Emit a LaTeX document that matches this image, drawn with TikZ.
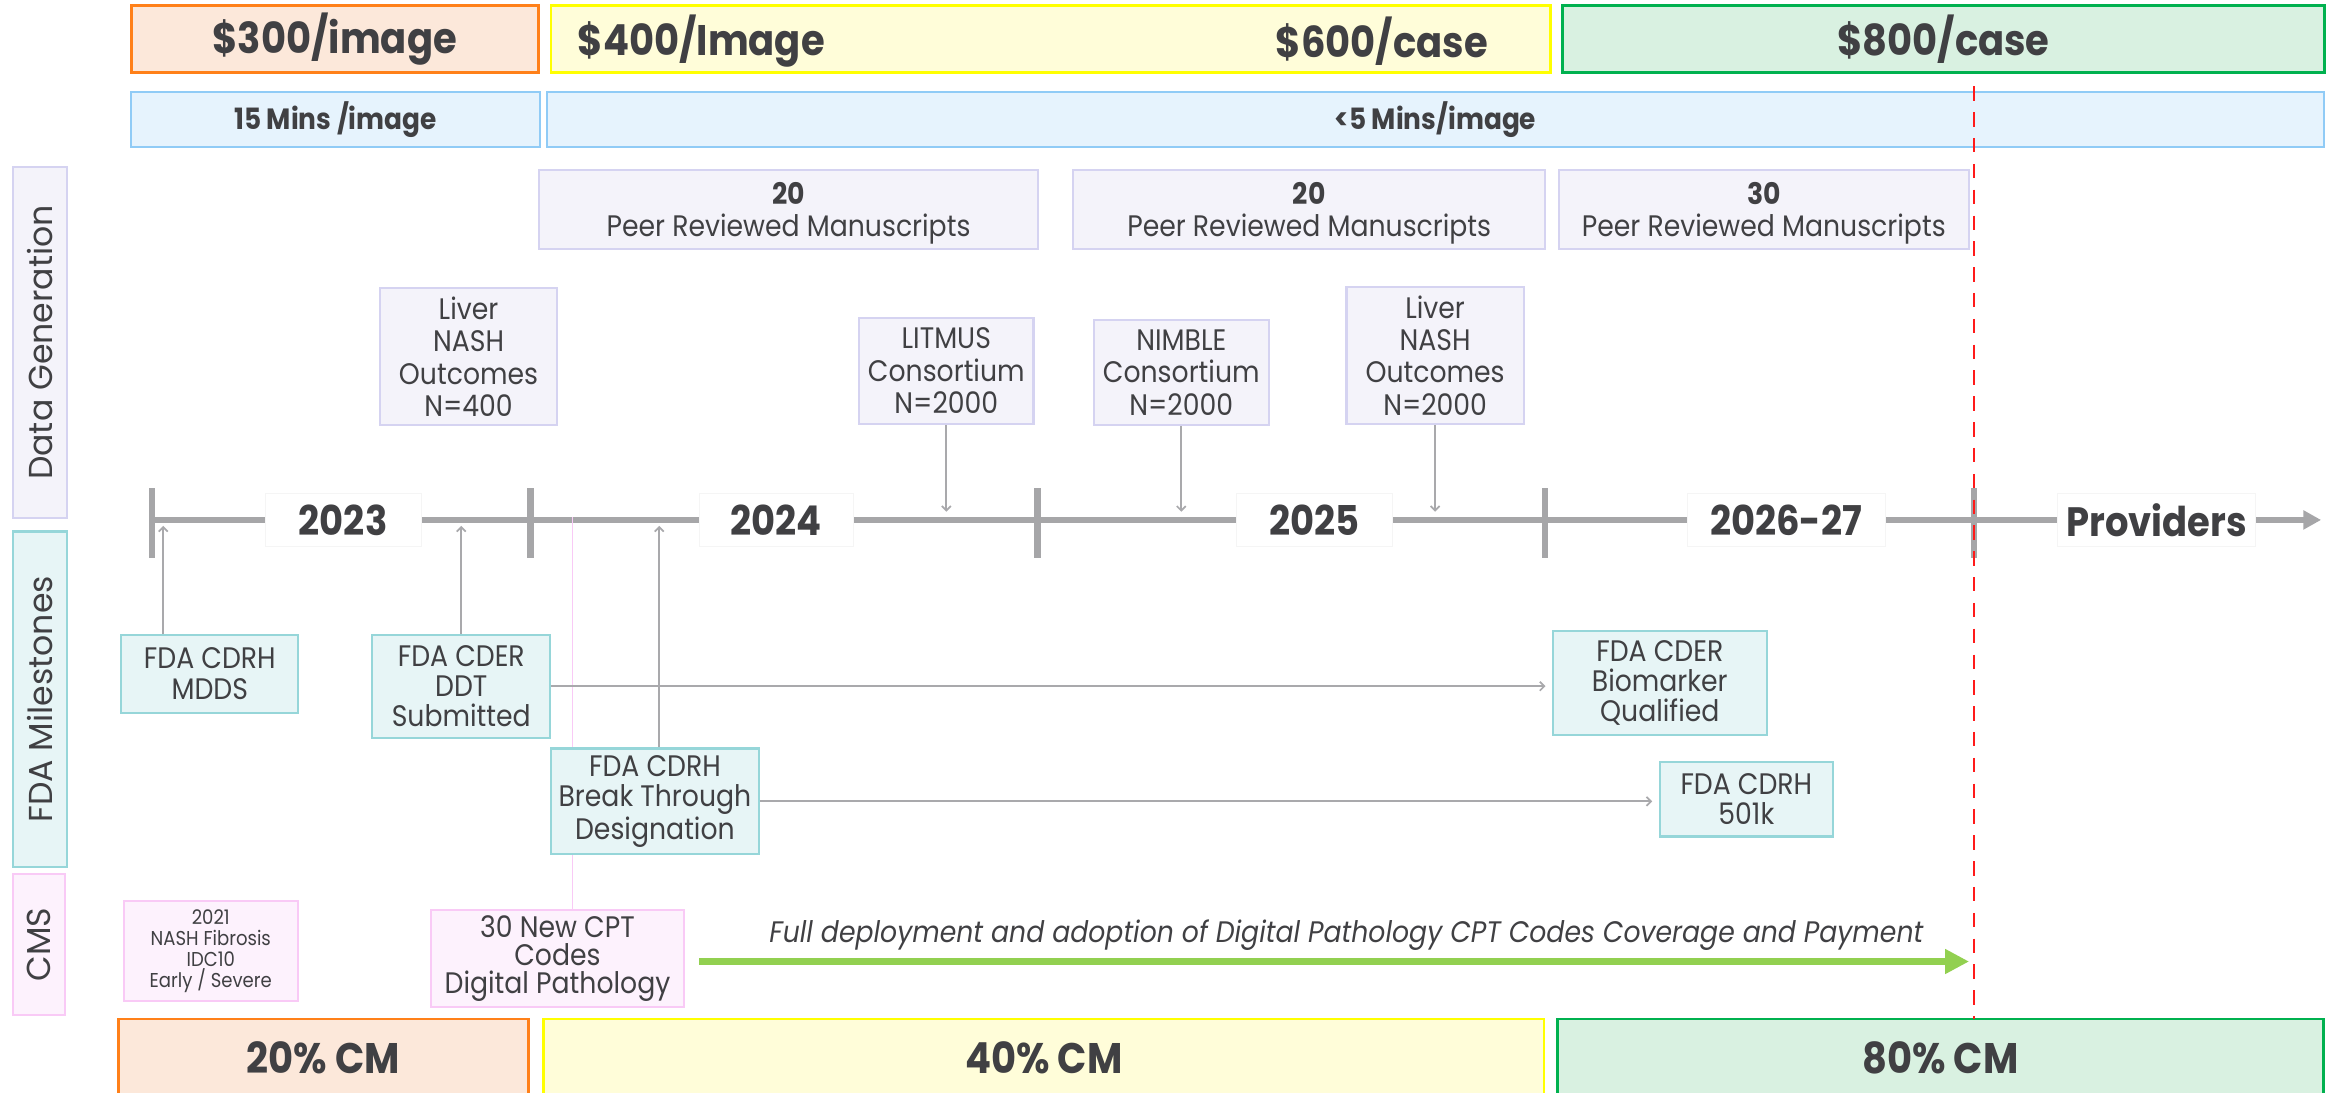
\documentclass[tikz,border=0pt]{standalone}
\usepackage{fontspec}
\setmainfont{Poppins}[FakeStretch=0.9]
\newfontfamily\sidelabelfont{Poppins}
\usetikzlibrary{arrows.meta}

\definecolor{txtgray}{HTML}{404043}
\definecolor{orangeline}{HTML}{FF8019}
\definecolor{orangefill}{HTML}{FCE8DA}
\definecolor{yellowline}{HTML}{FFFF00}
\definecolor{yellowfill}{HTML}{FFFDD9}
\definecolor{greenline}{HTML}{00B14F}
\definecolor{greenfill}{HTML}{D9F1E1}
\definecolor{blueline}{HTML}{90CBF6}
\definecolor{bluefill}{HTML}{E6F3FD}
\definecolor{lavline}{HTML}{D5D3F1}
\definecolor{lavfill}{HTML}{F4F3FA}
\definecolor{tealline}{HTML}{96D6D9}
\definecolor{tealfill}{HTML}{E7F5F6}
\definecolor{pinkline}{HTML}{F9CAF6}
\definecolor{pinkfill}{HTML}{FDF2FD}
\definecolor{timegray}{HTML}{A6A6A8}
\definecolor{conngray}{HTML}{A9A9AC}
\definecolor{cptgreen}{HTML}{92D050}
\definecolor{cutred}{HTML}{FF1A1A}

\begin{document}
\begin{tikzpicture}[
  x=0.3mm, y=-0.3mm,
  every node/.style={inner sep=0pt, align=center, text=txtgray},
  pricebox/.style={rectangle, draw, line width=1.6pt, minimum height=13.5mm, font=\bfseries\fontsize{24.5}{27}\selectfont},
  pricetext/.style={font=\bfseries\fontsize{24.5}{27}\selectfont},
  timebox/.style={rectangle, draw=blueline, fill=bluefill, line width=1.2pt, minimum height=11.1mm, font=\bfseries\fontsize{16.8}{19}\selectfont},
  sidebox/.style={rectangle, draw, line width=1.2pt, rotate=90, font=\sidelabelfont\fontsize{19}{22}\selectfont},
  peerbox/.style={rectangle, draw=lavline, fill=lavfill, line width=1.2pt, minimum height=15.9mm, text depth=-3pt, font=\fontsize{17}{18.2}\selectfont},
  databox/.style={rectangle, draw=lavline, fill=lavfill, line width=1.2pt, text depth=-6pt, font=\fontsize{17}{18.6}\selectfont},
  fdabox/.style={rectangle, draw=tealline, fill=tealfill, line width=1.2pt, font=\fontsize{17}{17.4}\selectfont},
  cmsbox/.style={rectangle, draw=pinkline, fill=pinkfill, line width=1.2pt, font=\fontsize{17}{16.2}\selectfont},
  yearlabel/.style={rectangle, fill=white, draw=black!4, minimum height=10.8mm, font=\bfseries\fontsize{23.5}{26}\selectfont},
  cmbox/.style={rectangle, draw, line width=1.6pt, minimum height=15.6mm, font=\bfseries\fontsize{24.5}{27}\selectfont},
  tickmark/.style={line width=3.8pt, draw=timegray},
  timeline/.style={line width=3.8pt, draw=timegray, -{Triangle[length=3.6mm, width=3.7mm]}},
  conn/.style={line width=1pt, draw=conngray, -{Straight Barb[length=0.9mm, width=1.8mm]}},
  cptlink/.style={line width=1pt, draw=pinkline},
  fullarrow/.style={line width=4.3pt, draw=cptgreen, -{Triangle[length=4.8mm, width=4.7mm]}},
  cutline/.style={line width=1pt, draw=cutred, dash pattern=on 2.9mm off 2.3mm}
]
\useasboundingbox (0,0) rectangle (1568,733);
\clip (0,0) rectangle (1568,733);

% Prices
\node[pricebox, draw=orangeline, fill=orangefill, minimum width=82mm] (p300) at (224.7,26.3) {\$300/image};
\node[pricebox, draw=yellowline, fill=yellowfill, minimum width=201.2mm] (p400) at (705.2,26.3) {};
\node[pricetext] (p400txt) at (470.7,27.5) {\$400/Image};
\node[pricetext] (p600txt) at (927.5,27.5) {\$600/case};
\node[pricebox, draw=greenline, fill=greenfill, minimum width=153.3mm] (p800) at (1304.5,26.3) {\$800/case};

% Reading time
\node[timebox, minimum width=82.3mm] (t15) at (225.2,80) {15 Mins /image};
\node[timebox, minimum width=357.9mm] (t5) at (963.5,80) {<5 Mins/image};

% Rows
\node[sidebox, draw=lavline, fill=lavfill, minimum width=70.8mm, minimum height=11mm] (rowdata) at (26.9,229.9) {Data Generation};
\node[sidebox, draw=tealline, fill=tealfill, minimum width=67.6mm, minimum height=11mm] (rowfda) at (26.9,469.4) {FDA Milestones};
\node[sidebox, draw=pinkline, fill=pinkfill, minimum width=28.5mm, minimum height=10.6mm] (rowcms) at (26.2,634) {CMS};

% Manuscripts
\node[peerbox, minimum width=100.4mm] (peer1) at (529.3,140.6) {\textbf{20}\\Peer Reviewed Manuscripts};
\node[peerbox, minimum width=95mm] (peer2) at (878.8,140.6) {\textbf{20}\\Peer Reviewed Manuscripts};
\node[peerbox, minimum width=82.6mm] (peer3) at (1183.9,140.6) {\textbf{30}\\Peer Reviewed Manuscripts};

% Studies
\node[databox, minimum width=35.7mm, minimum height=27.5mm] (liver400) at (314.5,239.4) {Liver\\NASH\\Outcomes\\N=400};
\node[databox, minimum width=35.1mm, minimum height=21.5mm] (litmus) at (635.2,249) {LITMUS\\Consortium\\N=2000};
\node[databox, minimum width=35.3mm, minimum height=21.2mm] (nimble) at (792.9,250) {NIMBLE\\Consortium\\N=2000};
\node[databox, minimum width=35.7mm, minimum height=27.7mm] (liver2000) at (963.3,238.6) {Liver\\NASH\\Outcomes\\N=2000};

% Timeline
\coordinate (tstart) at (102,349);
\coordinate (tend) at (1558,349);
\coordinate (tabove) at (0,343.5);
\coordinate (tbelow) at (0,353);
\draw[timeline] (tstart) -- (tend);
\draw[tickmark] (102,327.8) -- (102,374.7);
\draw[tickmark] (356,327.8) -- (356,374.7);
\draw[tickmark] (696.5,327.8) -- (696.5,374.7);
\draw[tickmark] (1037,327.8) -- (1037,374.7);
\draw[tickmark] (1325,327.8) -- (1325,374.7);
\node[yearlabel, minimum width=31.4mm] (y2023) at (230.3,349) {2023};
\node[yearlabel, minimum width=31.2mm] (y2024) at (521.1,349) {2024};
\node[yearlabel, minimum width=31.4mm] (y2025) at (882.3,349) {2025};
\node[yearlabel, minimum width=39.9mm] (y2026) at (1198.9,349) {2026-27};
\node[yearlabel, minimum width=39.9mm] (yprov) at (1447.5,349) {Providers};

% CPT link
\coordinate (cptmark) at (384.3,347);
\node[cmsbox, minimum width=50.9mm, minimum height=19.4mm] (cpt) at (374.2,643.3) {30 New CPT\\Codes\\Digital Pathology};
\draw[cptlink] (cptmark) -- (cptmark |- cpt.north);

% FDA
\node[fdabox, minimum width=35.6mm, minimum height=15.7mm] (mdds) at (140.8,452.2) {FDA CDRH\\MDDS};
\node[fdabox, minimum width=35.8mm, minimum height=20.8mm] (ddt) at (309.6,460.6) {FDA CDER\\DDT\\Submitted};
\node[fdabox, minimum width=41.8mm, minimum height=21.3mm] (btd) at (439.6,537.9) {FDA CDRH\\Break Through\\Designation};
\node[fdabox, minimum width=43mm, minimum height=20.8mm] (bio) at (1114.1,458.5) {FDA CDER\\Biomarker\\Qualified};
\node[fdabox, minimum width=34.9mm, minimum height=15mm] (k501) at (1172.2,536.5) {FDA CDRH\\501k};

% CMS
\node[cmsbox, font=\fontsize{11.5}{12.2}\selectfont, minimum width=35.1mm, minimum height=20.1mm] (nash2021) at (141.5,638.5) {2021\\NASH Fibrosis\\IDC10\\Early / Severe};
\coordinate (fullend) at (1321.7,645.4);
\draw[fullarrow, shorten <=2.9mm] (cpt.east |- fullend) -- (fullend);
\node[font=\itshape\fontsize{17}{19}\selectfont] (fullnote) at (903.7,628) {Full deployment and adoption of Digital Pathology CPT Codes Coverage and Payment};

% Connections
\draw[conn] (litmus.south) -- (litmus.south |- tabove);
\draw[conn] (nimble.south) -- (nimble.south |- tabove);
\draw[conn] (liver2000.south) -- (liver2000.south |- tabove);
\coordinate (mddsup) at (109.6,353);
\coordinate (btdup) at (442.5,353);
\draw[conn] (mddsup |- mdds.north) -- (mddsup);
\draw[conn] (ddt.north) -- (ddt.north |- tbelow);
\draw[conn] (btdup |- btd.north) -- (btdup);
\draw[conn, shorten >=1.3mm] (ddt.east) -- (ddt.east -| bio.west);
\draw[conn, shorten >=1.3mm] (btd.east) -- (btd.east -| k501.west);

% Coverage
\node[cmbox, draw=orangeline, fill=orangefill, minimum width=82.5mm] (cm20) at (217,710) {20\% CM};
\node[cmbox, draw=yellowline, fill=yellowfill, minimum width=201.5mm] (cm40) at (700.6,710) {40\% CM};
\node[cmbox, draw=greenline, fill=greenfill, minimum width=154.3mm] (cm80) at (1302.5,710) {80\% CM};

% Cut-off
\coordinate (cuttop) at (1325,58);
\coordinate (cutbot) at (1325,684);
\draw[cutline] (cuttop) -- (cutbot);

\end{tikzpicture}
\end{document}
